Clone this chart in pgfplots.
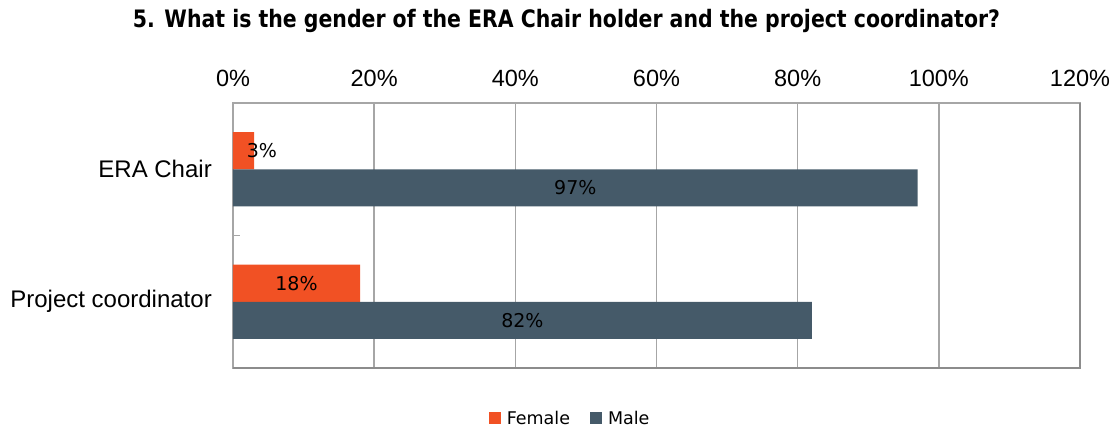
\documentclass[border=0pt]{standalone}
\usepackage{pgfplots}
\pgfplotsset{compat=1.18}
\usepackage{fontspec}
\usepackage{graphicx}
\setmainfont{Liberation Sans}
\newfontfamily\dejavu{DejaVu Sans}
\definecolor{fem}{HTML}{F15124}
\definecolor{mal}{HTML}{455A69}
\definecolor{gridc}{HTML}{A6A6A6}
\definecolor{framec}{HTML}{8C8C8C}
\begin{document}
\begin{tikzpicture}
\path[use as bounding box] (-233pt,-60pt) rectangle (881pt,368pt);
\begin{axis}[
  at={(0,0)}, anchor=south west,
  scale only axis, width=847pt, height=265pt,
  xmin=0, xmax=120, ymin=-0.5, ymax=1.5,
  y dir=reverse,
  xtick={0,20,...,120},
  xticklabel pos=top,
  xticklabel={\pgfmathprintnumber{\tick}\%},
  xticklabel style={font=\fontsize{23.5}{26}\selectfont, anchor=base, yshift=17pt},
  /pgf/number format/assume math mode=true,
  ytick={0,1},
  ytick pos=left,
  yticklabels={ERA Chair, Project coordinator},
  yticklabel style={font=\fontsize{24}{27}\selectfont, anchor=east, inner sep=0pt, xshift=-21pt},
  major tick length=0pt,
  extra y ticks={0.5},
  extra y tick labels={},
  extra y tick style={major tick length=7pt, tick align=inside, ytick pos=left, tick style={gridc, line width=1pt}},
  xmajorgrids,
  grid style={gridc, line width=1.5pt},
  axis line style={gridc, line width=1.5pt},
  legend columns=2,
  legend style={draw=none, fill=none, at={(0.4004,-0.19)}, anchor=center,
    font=\dejavu\fontsize{17.5}{20}\selectfont,
    /tikz/every even column/.append style={column sep=14pt},
    nodes={inner xsep=6pt}},
  legend image code/.code={\fill[#1] (0pt,-6pt) rectangle (12pt,6pt);},
  clip=false,
]
\addplot[xbar, bar width=0.28, bar shift=-0.14, fill=fem, draw=none]
  table[x=f, y=y] {
  y f m
  0 3 97
  1 18 82
  };
\addlegendentry{Female}
\addplot[xbar, bar width=0.28, bar shift=0.14, fill=mal, draw=none]
  table[x=m, y=y] {
  y f m
  0 3 97
  1 18 82
  };
\addlegendentry{Male}
\addplot[draw=none, mark=none, nodes near coords={\pgfmathprintnumber{\pgfplotspointmeta}\%},
  point meta=\thisrow{v},
  every node near coord/.append style={anchor=center, inner sep=0pt, font=\dejavu\fontsize{19}{22}\selectfont, /pgf/number format/assume math mode=true}]
  table[x=lx, y=ly] {
  lx ly v
  4.1 -0.14 3
  48.5 0.14 97
  9 0.86 18
  41 1.14 82
  };
\draw[framec, line width=2pt] (rel axis cs:1,1) -- (rel axis cs:1,0) -- (rel axis cs:0,0);
\end{axis}
\node[anchor=base, inner sep=0pt] at (333.5pt,340pt)
  {\resizebox{867pt}{\height}{\dejavu\bfseries\fontsize{24}{28}\selectfont 5. What is the gender of the ERA Chair holder and the project coordinator?}};
\end{tikzpicture}
\end{document}
